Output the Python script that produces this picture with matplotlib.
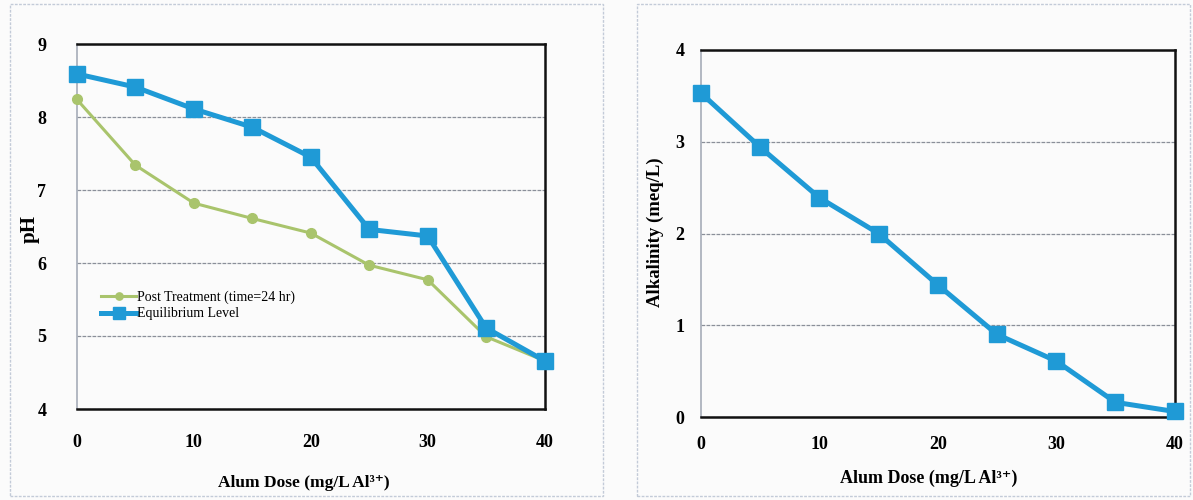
import matplotlib
matplotlib.use("Agg")
import matplotlib.pyplot as plt
from matplotlib.patches import Rectangle

# alum dose (mg/L Al3+)
dose = [0, 5, 10, 15, 20, 25, 30, 35, 40]

# pH values
ph_post = [8.24, 7.34, 6.82, 6.61, 6.41, 5.97, 5.77, 4.99, 4.66]
ph_equil = [8.59, 8.41, 8.11, 7.86, 7.45, 6.46, 6.37, 5.11, 4.66]

# alkalinity (meq/L)
alkalinity = [3.53, 2.94, 2.39, 2.0, 1.44, 0.90, 0.61, 0.16, 0.06]

xlabel = "Alum Dose (mg/L Al³⁺)"

blue = "#1f9ad6"
green = "#a9c46c"

plt.rcParams['font.family'] = ['Liberation Serif', 'DejaVu Serif']
plt.rcParams['font.weight'] = 'bold'

fig = plt.figure(figsize=(11.93, 5), dpi=100)
fig.patch.set_facecolor("#fbfbfb")

# panel outlines
for x0, x1 in [(10, 603), (637, 1190)]:
    fig.patches.append(Rectangle((x0 / 1193, 4 / 500), (x1 - x0) / 1193, 492 / 500,
                                 transform=fig.transFigure, fill=False,
                                 edgecolor="#c3cbd8", linewidth=1.0, linestyle=(0, (2, 1))))


def style_axes(ax):
    ax.set_facecolor("#fbfbfb")
    ax.grid(axis='y', color="#8a8f99", linestyle=(0, (3, 1)), linewidth=0.9)
    ax.set_axisbelow(True)
    for side in ['top', 'bottom', 'right']:
        ax.spines[side].set_color("#111111")
        ax.spines[side].set_linewidth(1.8)
    ax.spines['left'].set_color("#a6acb8")
    ax.spines['left'].set_linewidth(1.2)
    ax.tick_params(length=0, labelsize=13)
    for lab in ax.get_xticklabels() + ax.get_yticklabels():
        lab.set_fontweight('bold')


# left chart: pH
ax1 = fig.add_axes([0.0645, 0.182, 0.392, 0.73])
ax1.plot(dose, ph_post, color=green, linewidth=2.2, marker='o', markersize=7,
         label="Post Treatment (time=24 hr)", clip_on=False, zorder=3)
ax1.plot(dose, ph_equil, color=blue, linewidth=3.6, marker='s', markersize=11,
         label="Equilibrium Level", clip_on=False, zorder=4)
ax1.set_xlim(0, 40)
ax1.set_ylim(4, 9)
ax1.set_xticks([0, 10, 20, 30, 40])
ax1.set_yticks([4, 5, 6, 7, 8, 9])
ax1.tick_params(axis='x', pad=18)
ax1.tick_params(axis='y', pad=22)
style_axes(ax1)
leg = ax1.legend(loc='upper left', bbox_to_anchor=(0.04, 0.34), frameon=False,
                 fontsize=10, handlelength=2.5, handletextpad=0.1, labelspacing=0.25,
                 borderaxespad=0, markerscale=0.75)
for t in leg.get_texts():
    t.set_fontweight('normal')

# right chart: alkalinity
ax2 = fig.add_axes([0.5876, 0.166, 0.397, 0.734])
ax2.plot(dose, alkalinity, color=blue, linewidth=3.6, marker='s', markersize=11,
         clip_on=False, zorder=4)
ax2.set_xlim(0, 40)
ax2.set_ylim(0, 4)
ax2.set_xticks([0, 10, 20, 30, 40])
ax2.set_yticks([0, 1, 2, 3, 4])
ax2.tick_params(axis='x', pad=14)
ax2.tick_params(axis='y', pad=12)
style_axes(ax2)

# axis titles placed to match the scanned layout
fig.text(304 / 1193, 1 - 483 / 500, xlabel, fontsize=12.5, fontweight='bold',
         ha='center', va='center')
fig.text(30 / 1193, 1 - 229 / 500, "pH", fontsize=15, fontweight='bold',
         ha='center', va='center', rotation=90)
fig.text(929 / 1193, 1 - 478 / 500, xlabel, fontsize=13, fontweight='bold',
         ha='center', va='center')
fig.text(655 / 1193, 1 - 232 / 500, "Alkalinity (meq/L)", fontsize=13.5, fontweight='bold',
         ha='center', va='center', rotation=90)

fig.savefig("out.png", dpi=100, facecolor=fig.get_facecolor())
